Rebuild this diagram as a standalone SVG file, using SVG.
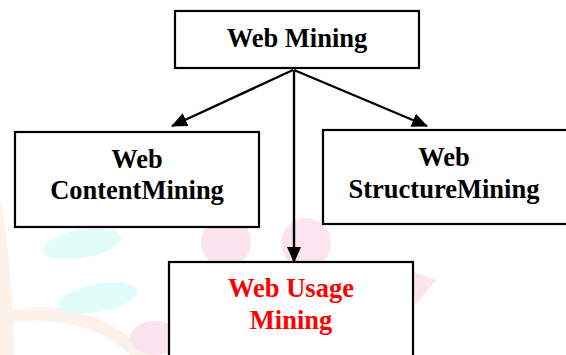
<svg xmlns="http://www.w3.org/2000/svg" width="566" height="355" viewBox="0 0 566 355">
  <defs>
    <marker id="arrow" markerWidth="16" markerHeight="14" refX="15" refY="7" orient="auto" markerUnits="userSpaceOnUse">
      <path d="M0,0 L16,7 L0,14 Z" fill="#000"/>
    </marker>
    <style>
      .box { fill: #fff; stroke: #000; stroke-width: 2.2; }
      .lbl { font-family: "Liberation Serif", "Times New Roman", serif; font-weight: bold; font-size: 26.5px; text-anchor: middle; fill: #000; }
      .red { fill: #ff0000; }
      .conn { stroke: #000; stroke-width: 2.4; fill: none; }
    </style>
  </defs>
  <rect width="566" height="355" fill="#fff"/>
  <g id="watermark" opacity="0.75">
    <path d="M0,200 C6,230 12,270 14,355 L0,355 Z" fill="#fdeee2"/>
    <path d="M10,310 C60,300 110,315 150,355 L130,355 C100,325 60,318 10,322 Z" fill="#fdeee2"/>
    <ellipse cx="82" cy="244" rx="40" ry="14" transform="rotate(-10 82 244)" fill="#d9fbfb"/>
    <ellipse cx="98" cy="298" rx="40" ry="14" transform="rotate(-10 98 298)" fill="#d9fbfb"/>
    <circle cx="226" cy="242" r="25" fill="#fcdbe9"/>
    <circle cx="306" cy="243" r="25" fill="#fcdbe9"/>
    <ellipse cx="155" cy="338" rx="25" ry="17" fill="#fcdbe9"/>
    <path d="M413,272 L436,280 L415,305 Z" fill="#fcdbe9"/>
  </g>
  <g id="connectors">
    <line class="conn" x1="293" y1="70" x2="172" y2="126" marker-end="url(#arrow)"/>
    <line class="conn" x1="294" y1="70" x2="427" y2="126" marker-end="url(#arrow)"/>
    <line class="conn" x1="294" y1="70" x2="294" y2="262" marker-end="url(#arrow)"/>
  </g>
  <g id="web-mining">
    <rect class="box" x="175" y="11" width="244" height="57"/>
    <text class="lbl" x="297" y="47">Web Mining</text>
  </g>
  <g id="web-content-mining">
    <rect class="box" x="15" y="132" width="244" height="95"/>
    <text class="lbl" x="137" y="168">Web</text>
    <text class="lbl" x="137" y="199">ContentMining</text>
  </g>
  <g id="web-structure-mining">
    <rect class="box" x="323" y="130" width="260" height="94"/>
    <text class="lbl" x="444" y="166">Web</text>
    <text class="lbl" x="444" y="198">StructureMining</text>
  </g>
  <g id="web-usage-mining">
    <rect class="box" x="169" y="262" width="244" height="110"/>
    <text class="lbl red" x="291" y="297">Web Usage</text>
    <text class="lbl red" x="291" y="329">Mining</text>
  </g>
</svg>
